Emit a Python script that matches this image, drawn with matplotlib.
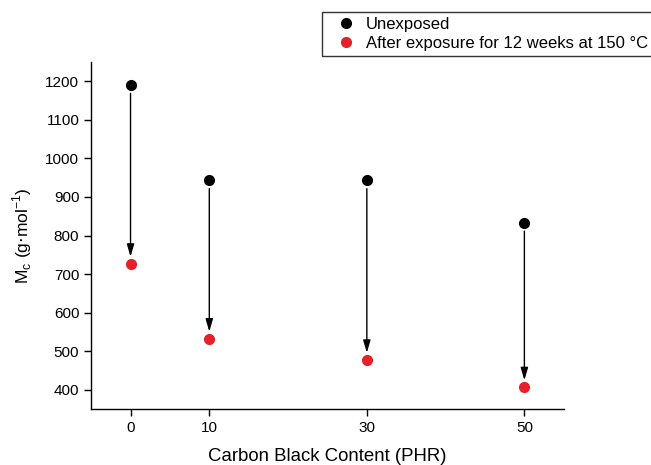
import matplotlib
matplotlib.use('Agg')
import matplotlib.pyplot as plt
from matplotlib.lines import Line2D

plt.rcParams['font.family'] = ['Liberation Sans', 'DejaVu Sans']

# data
carbon_black = [0, 10, 30, 50]
mc_unexposed = [1190, 943, 943, 833]
mc_exposed = [727, 533, 478, 407]
x_ticks = [0, 10, 30, 50]
y_ticks = [400, 500, 600, 700, 800, 900, 1000, 1100, 1200]

fig = plt.figure(figsize=(6.51, 4.65), dpi=100)
ax = fig.add_axes([0.140, 0.120, 0.726, 0.747])

ax.plot(carbon_black, mc_unexposed, 'o', color='black', ms=7, zorder=3)
ax.plot(carbon_black, mc_exposed, 'o', color='#e8202a', ms=7, zorder=3)

# arrows from unexposed down to exposed values
for x, y0, y1 in zip(carbon_black, mc_unexposed, mc_exposed):
    ax.annotate('', xy=(x, y1), xytext=(x, y0),
                arrowprops=dict(arrowstyle='-|>,head_length=0.75,head_width=0.22',
                                color='black', lw=1.0,
                                shrinkA=6, shrinkB=5))

ax.set_xlim(-5, 55)
ax.set_ylim(350, 1250)
ax.set_xticks(x_ticks)
ax.set_yticks(y_ticks)
ax.tick_params(labelsize=11, direction='out', length=5, width=1)
for side in ('top', 'right'):
    ax.spines[side].set_visible(False)
for side in ('left', 'bottom'):
    ax.spines[side].set_linewidth(1)

ax.set_xlabel('Carbon Black Content (PHR)', fontsize=13.4, labelpad=9)
ax.set_ylabel(r'M$_\mathregular{c}$ (g$\cdot$mol$^\mathregular{-1}$)',
              fontsize=12.5, labelpad=8)

handles = [
    Line2D([], [], ls='none', marker='o', color='black', ms=7),
    Line2D([], [], ls='none', marker='o', color='#e8202a', ms=7),
]
labels = ['Unexposed', 'After exposure for 12 weeks at 150 \u00b0C']
leg = fig.legend(handles, labels, loc='upper left',
                 bbox_to_anchor=(0.4946, 0.877, 0.53, 0.097), mode='expand',
                 frameon=True, fancybox=False, fontsize=12,
                 handletextpad=0.05, borderaxespad=0, borderpad=0.3,
                 labelspacing=0.25, handlelength=2.3)
leg.get_frame().set_edgecolor('black')
leg.get_frame().set_linewidth(1)

fig.savefig('out.png', dpi=100)
